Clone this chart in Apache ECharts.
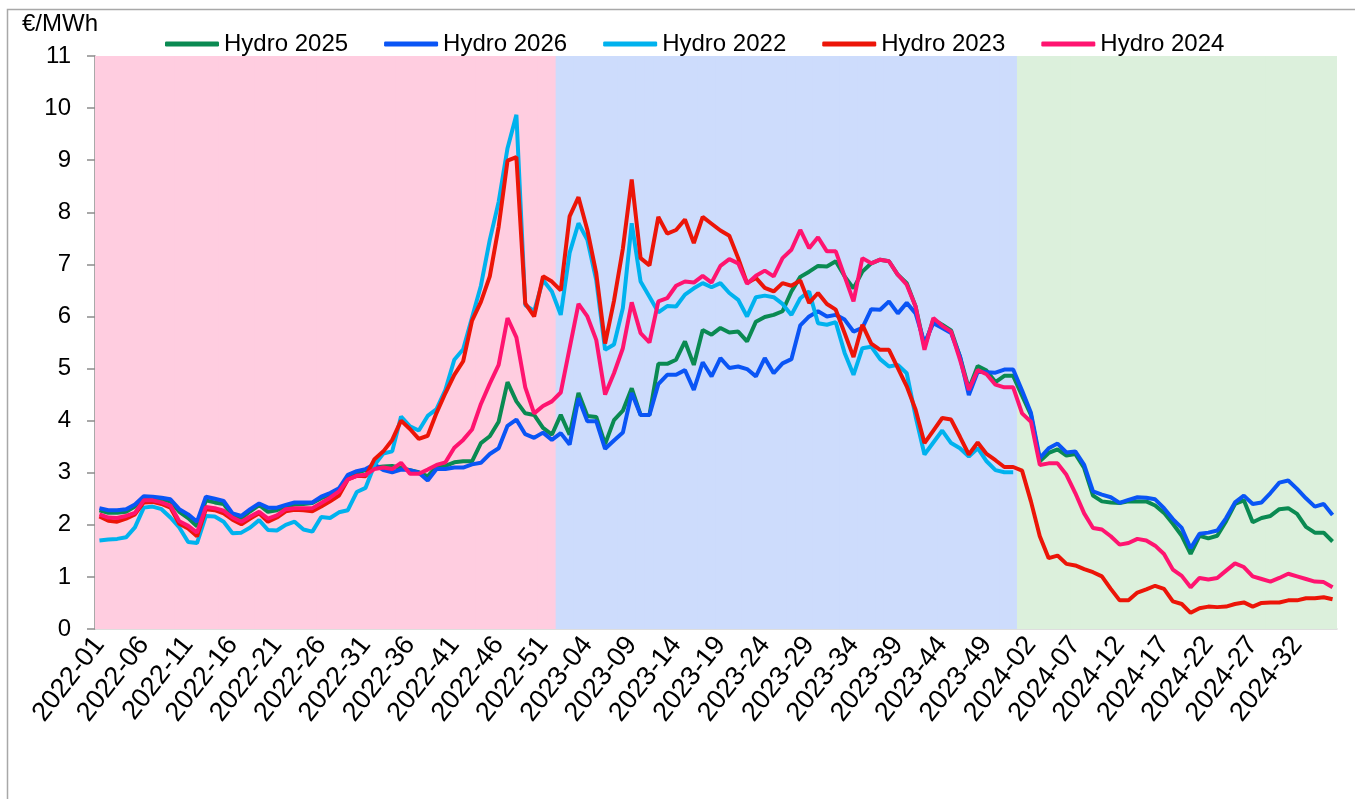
<!DOCTYPE html>
<html>
<head>
<meta charset="utf-8">
<script src="https://cdn.jsdelivr.net/npm/echarts@6/dist/echarts.min.js"></script>
<style>
  html, body { margin: 0; padding: 0; background: #fff; }
  #chart { width: 1355px; height: 799px; }
</style>
</head>
<body>
<div id="chart"></div>
<script>
// weekly categories 2022-01 .. 2024-36
const years = [2022, 2023, 2024]
const weeksPerYear = [52, 52, 36]
const categories = []
years.forEach((y, k) => {
  for (let w = 1; w <= weeksPerYear[k]; w++) categories.push(y + '-' + String(w).padStart(2, '0'))
})

const yTicks = { min: 0, max: 11, interval: 1 }

// background colour per calendar year
const yearBand = { '2022': '#ffcde0', '2023': '#cddcfc', '2024': '#dcf0dc' }

const hydro2022 = [
  1.70, 1.72, 1.73, 1.76, 1.95, 2.33, 2.35, 2.30, 2.14, 1.95, 1.67, 1.65, 2.17, 2.16, 2.06, 1.84, 1.85, 1.95, 2.09, 1.90, 1.89, 2.00, 2.06, 1.91,
  1.87, 2.15, 2.13, 2.24, 2.28, 2.63, 2.71, 3.15, 3.37, 3.41, 4.08, 3.89, 3.81, 4.09, 4.22, 4.59, 5.17, 5.37, 5.98, 6.59, 7.47, 8.20,
  9.23, 9.87, 6.22, 6.10, 6.70, 6.48, 6.03, 7.22, 7.79, 7.47, 6.70, 5.36, 5.46, 6.16, 7.79, 6.67, 6.38, 6.08,
  6.20, 6.19, 6.42, 6.54, 6.64, 6.56, 6.64, 6.45, 6.32, 6.00, 6.37, 6.40, 6.37, 6.24, 6.03, 6.35, 6.48, 5.87,
  5.84, 5.89, 5.30, 4.88, 5.39, 5.42, 5.18, 5.04, 5.07, 4.91, 4.08, 3.35, 3.58, 3.81, 3.57, 3.47, 3.31, 3.47, 3.22, 3.05, 3.01, 3.01
]
const hydro2023 = [
  2.16, 2.08, 2.06, 2.12, 2.20, 2.43, 2.44, 2.40, 2.33, 2.02, 1.93, 1.78, 2.30, 2.28, 2.22, 2.10, 2.01, 2.12, 2.22, 2.06, 2.14, 2.26, 2.29, 2.28,
  2.26, 2.35, 2.45, 2.56, 2.87, 2.94, 2.93, 3.26, 3.41, 3.63, 4.00, 3.84, 3.65, 3.71, 4.15, 4.53, 4.88, 5.14, 5.92, 6.28, 6.77, 7.72,
  8.99, 9.06, 6.25, 6.00, 6.77, 6.67, 6.50, 7.92, 8.29, 7.66, 6.83, 5.48, 6.30, 7.30, 8.63, 7.12, 6.98, 7.91,
  7.59, 7.66, 7.86, 7.41, 7.91, 7.78, 7.65, 7.55, 7.12, 6.64, 6.74, 6.55, 6.48, 6.64, 6.59, 6.69, 6.26, 6.45,
  6.24, 6.13, 5.68, 5.22, 5.84, 5.48, 5.36, 5.36, 5.01, 4.66, 4.21, 3.57, 3.81, 4.05, 4.02, 3.69, 3.35, 3.58, 3.36, 3.24, 3.11, 3.11,
  3.04, 2.45, 1.78, 1.36, 1.41, 1.25, 1.22, 1.15, 1.09, 1.01, 0.77, 0.55, 0.55, 0.70, 0.76, 0.83, 0.77, 0.53,
  0.48, 0.31, 0.40, 0.43, 0.42, 0.43, 0.48, 0.51, 0.43, 0.50, 0.51, 0.51, 0.55, 0.55, 0.59, 0.59, 0.61, 0.57
]
const hydro2024 = [
  2.20, 2.14, 2.13, 2.17, 2.23, 2.47, 2.47, 2.43, 2.37, 2.07, 1.98, 1.85, 2.34, 2.32, 2.27, 2.14, 2.06, 2.16, 2.25, 2.12, 2.18, 2.30, 2.32, 2.32,
  2.32, 2.42, 2.52, 2.64, 2.87, 2.94, 2.96, 3.07, 3.10, 3.07, 3.19, 2.98, 2.98, 3.06, 3.15, 3.20, 3.48, 3.63, 3.83, 4.32, 4.71, 5.07,
  5.97, 5.60, 4.64, 4.14, 4.28, 4.37, 4.54, 5.39, 6.24, 6.00, 5.55, 4.50, 4.91, 5.39, 6.27, 5.68, 5.50, 6.29,
  6.35, 6.59, 6.67, 6.65, 6.78, 6.65, 6.97, 7.10, 7.02, 6.63, 6.78, 6.88, 6.77, 7.12, 7.28, 7.66, 7.31, 7.52,
  7.25, 7.25, 6.77, 6.29, 7.12, 7.02, 7.09, 7.06, 6.80, 6.61, 6.19, 5.36, 5.97, 5.82, 5.71, 5.17, 4.59, 4.97, 4.89, 4.69, 4.64, 4.64,
  4.14, 3.98, 3.15, 3.18, 3.18, 2.96, 2.61, 2.22, 1.94, 1.91, 1.78, 1.62, 1.65, 1.73, 1.70, 1.60, 1.44, 1.14,
  1.02, 0.80, 0.98, 0.95, 0.98, 1.12, 1.26, 1.19, 1.01, 0.96, 0.91, 0.98, 1.06, 1.01, 0.96, 0.91, 0.90, 0.80
]
const hydro2025 = [
  2.28, 2.23, 2.23, 2.25, 2.35, 2.52, 2.51, 2.48, 2.45, 2.25, 2.13, 1.97, 2.47, 2.43, 2.40, 2.18, 2.13, 2.26, 2.38, 2.25, 2.28, 2.35, 2.39, 2.40,
  2.42, 2.51, 2.58, 2.67, 2.93, 3.00, 3.05, 3.10, 3.12, 3.13, 3.09, 3.05, 3.01, 2.93, 3.12, 3.13, 3.20, 3.22, 3.22, 3.57, 3.70, 3.98,
  4.74, 4.37, 4.14, 4.11, 3.86, 3.73, 4.11, 3.73, 4.53, 4.09, 4.07, 3.55, 4.01, 4.19, 4.62, 4.11, 4.11, 5.09,
  5.09, 5.17, 5.52, 5.07, 5.74, 5.65, 5.78, 5.69, 5.71, 5.52, 5.90, 5.99, 6.03, 6.10, 6.48, 6.76, 6.86, 6.97,
  6.96, 7.06, 6.77, 6.54, 6.86, 7.02, 7.09, 7.06, 6.80, 6.64, 6.19, 5.42, 5.94, 5.84, 5.73, 5.23, 4.61, 5.05, 4.96, 4.74, 4.86, 4.86,
  4.48, 4.11, 3.22, 3.38, 3.45, 3.33, 3.36, 3.09, 2.56, 2.45, 2.43, 2.42, 2.45, 2.45, 2.45, 2.37, 2.23, 2.02,
  1.79, 1.44, 1.79, 1.74, 1.79, 2.07, 2.40, 2.47, 2.05, 2.13, 2.17, 2.30, 2.32, 2.21, 1.96, 1.85, 1.85, 1.68
]
const hydro2026 = [
  2.32, 2.28, 2.28, 2.30, 2.39, 2.55, 2.54, 2.52, 2.49, 2.30, 2.20, 2.06, 2.54, 2.50, 2.46, 2.22, 2.17, 2.30, 2.41, 2.33, 2.33, 2.38, 2.43, 2.43,
  2.43, 2.54, 2.61, 2.70, 2.96, 3.03, 3.07, 3.16, 3.05, 3.01, 3.06, 3.05, 3.00, 2.85, 3.07, 3.07, 3.10, 3.10, 3.16, 3.19, 3.36, 3.47,
  3.90, 4.02, 3.74, 3.67, 3.77, 3.63, 3.76, 3.54, 4.43, 3.99, 3.99, 3.46, 3.62, 3.77, 4.53, 4.11, 4.11, 4.70,
  4.88, 4.88, 4.97, 4.59, 5.12, 4.85, 5.20, 5.01, 5.04, 4.99, 4.85, 5.20, 4.91, 5.10, 5.18, 5.83, 6.00, 6.10,
  6.00, 6.03, 5.94, 5.71, 5.78, 6.14, 6.13, 6.29, 6.06, 6.26, 6.06, 5.49, 5.87, 5.78, 5.68, 5.23, 4.49, 4.94, 4.93, 4.92, 4.98, 4.98,
  4.58, 4.15, 3.28, 3.47, 3.56, 3.39, 3.41, 3.15, 2.64, 2.58, 2.53, 2.42, 2.48, 2.53, 2.52, 2.49, 2.32, 2.11,
  1.94, 1.55, 1.83, 1.85, 1.89, 2.13, 2.43, 2.56, 2.40, 2.43, 2.61, 2.81, 2.85, 2.69, 2.51, 2.35, 2.40, 2.19
]

const seriesDefs = [
  { name: 'Hydro 2025', data: hydro2025, color: '#0a8a52' },
  { name: 'Hydro 2026', data: hydro2026, color: '#0a55f5' },
  { name: 'Hydro 2022', data: hydro2022, color: '#00b2ee' },
  { name: 'Hydro 2023', data: hydro2023, color: '#ec1508' },
  { name: 'Hydro 2024', data: hydro2024, color: '#ff1470' }
]

const font = '"Liberation Sans", Arial, sans-serif'
const chart = echarts.init(document.getElementById('chart'))

chart.setOption({
  animation: false,
  backgroundColor: '#fff',
  textStyle: { fontFamily: font, color: '#000' },
  title: {
    text: '€/MWh', left: 17, top: 7,
    textStyle: { fontFamily: font, fontSize: 24, fontWeight: 'normal', color: '#000' }
  },
  graphic: [{
    type: 'rect', left: 5, top: 7, silent: true,
    shape: { width: 1360, height: 800 },
    style: { fill: 'none', stroke: '#a8a8a8', lineWidth: 1.5 }
  }],
  legend: {
    data: seriesDefs.map((s) => s.name),
    left: 165, top: 32, padding: 0,
    icon: 'roundRect',
    itemWidth: 54, itemHeight: 5, itemGap: 36,
    textStyle: { fontFamily: font, fontSize: 24, color: '#000' }
  },
  grid: { left: 95, right: 18, top: 56, bottom: 170 },
  xAxis: {
    type: 'category',
    data: categories,
    boundaryGap: true,
    axisLine: { lineStyle: { color: '#d4d4d4', width: 1.5 } },
    axisTick: { interval: (i) => i % 5 === 0, length: 10, lineStyle: { color: '#d4d4d4', width: 1.5 } },
    axisLabel: {
      interval: (i) => i % 5 === 0,
      rotate: 52, margin: 11,
      fontFamily: font, fontSize: 27, color: '#000'
    },
    splitLine: { show: false }
  },
  yAxis: {
    type: 'value',
    min: yTicks.min, max: yTicks.max, interval: yTicks.interval,
    axisLine: { show: true, lineStyle: { color: '#8c8c8c', width: 1.5 } },
    axisTick: { show: true, length: 8, lineStyle: { color: '#8c8c8c', width: 1.5 } },
    axisLabel: { margin: 24, fontFamily: font, fontSize: 24, color: '#000' },
    splitLine: { show: false }
  },
  series: [
    {
      name: 'band', type: 'bar', silent: true,
      barWidth: '115%',
      data: categories.map((c) => ({
        value: yTicks.max,
        itemStyle: { color: yearBand[c.slice(0, 4)] }
      }))
    },
    ...seriesDefs.map((s) => ({
      name: s.name,
      type: 'line',
      data: s.data,
      symbol: 'none',
      smooth: false,
      color: s.color,
      lineStyle: { color: s.color, width: 4 },
      emphasis: { disabled: true }
    }))
  ]
})
</script>
</body>
</html>
